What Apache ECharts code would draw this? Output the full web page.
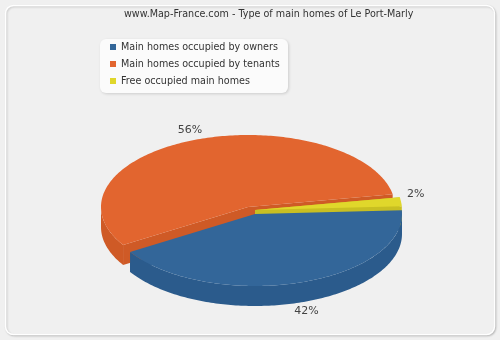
<!DOCTYPE html>
<html><head><meta charset="utf-8">
<script src="https://cdn.jsdelivr.net/npm/echarts@6/dist/echarts.min.js"></script>
<style>html,body{margin:0;padding:0;background:#f0f0f0}#c{width:500px;height:340px}</style>
</head><body><div id="c"></div>
<script>
const categories = ['Main homes occupied by owners', 'Main homes occupied by tenants', 'Free occupied main homes'];
const values = [42, 56, 2];
const pctLabels = ['42%', '56%', '2%'];

const topColors = ['#336699', '#e2652f', '#e0d72b'];
const sideColors = ['#2b5b8c', '#cf5a26', '#c8bf22'];
const offsets = [[0, 0], [-7, -7], [0, -4]];
const labelNudge = [[3, -2], [0, 0], [0, -6]];
const CX = 255, CY = 214, RX = 147, RY = 72, DEPTH = 20;
const START = -3 * Math.PI / 180;
const FONT = 'DejaVu Sans';

const total = values.reduce((a, b) => a + b, 0);

function startAngle(i) {
  let cum = 0;
  for (let k = 0; k < i; k++) cum += values[k];
  return START + 2 * Math.PI * cum / total;
}

function arc(cx, cy, s, e, dy) {
  const pts = [];
  const n = Math.max(2, Math.ceil(Math.abs(e - s) / (Math.PI / 180)));
  for (let j = 0; j <= n; j++) {
    const a = s + (e - s) * j / n;
    pts.push([cx + RX * Math.cos(a), cy + RY * Math.sin(a) + dy]);
  }
  return pts;
}

function renderItem(params, api) {
  const i = params.seriesIndex;
  const v = api.value(0);
  const a0 = startAngle(i);
  const a1 = a0 + 2 * Math.PI * v / total;
  const cx = CX + offsets[i][0], cy = CY + offsets[i][1];
  const children = [];
  [a0, a1].forEach(a => {
    const r = [cx + RX * Math.cos(a), cy + RY * Math.sin(a)];
    children.push({
      type: 'polygon', z2: 1,
      shape: { points: [[cx, cy], r, [r[0], r[1] + DEPTH], [cx, cy + DEPTH]] },
      style: { fill: sideColors[i] }
    });
  });
  for (let k = -1; k <= 1; k++) {
    const fs = 2 * Math.PI * k, fe = fs + Math.PI;
    const s = Math.max(a0, fs), e = Math.min(a1, fe);
    if (e > s) {
      const topArc = arc(cx, cy, s, e, 0);
      const botArc = arc(cx, cy, s, e, DEPTH).reverse();
      children.push({
        type: 'polygon', z2: 2,
        shape: { points: topArc.concat(botArc) },
        style: { fill: sideColors[i] }
      });
    }
  }
  children.push({
    type: 'polygon', z2: 10,
    shape: { points: [[cx, cy]].concat(arc(cx, cy, a0, a1, 0)) },
    style: { fill: topColors[i] }
  });
  const m = (a0 + a1) / 2;
  const lx = cx + RX * 1.1 * Math.cos(m) + labelNudge[i][0];
  const ly = cy + RY * 1.15 * Math.sin(m) + (Math.sin(m) > 0 ? DEPTH : 0) + labelNudge[i][1];
  children.push({
    type: 'text', z2: 20,
    style: { text: pctLabels[i], x: lx, y: ly, fill: '#444', font: '11px ' + FONT, align: 'center', verticalAlign: 'middle' }
  });
  return { type: 'group', children };
}

const chart = echarts.init(document.getElementById('c'));
chart.setOption({
  backgroundColor: '#f0f0f0',
  animation: false,
  title: {
    text: 'www.Map-France.com - Type of main homes of Le Port-Marly',
    left: 119, top: 4,
    textStyle: { fontSize: 9.6, fontWeight: 'normal', color: '#333', fontFamily: FONT }
  },
  graphic: [
    { type: 'rect', z: -10, shape: { x: 5.5, y: 5.5, width: 489, height: 329, r: 8 },
      style: { fill: '#f0f0f0', stroke: '#ffffff', lineWidth: 1.5, shadowBlur: 2, shadowOffsetX: 1, shadowOffsetY: 1, shadowColor: 'rgba(0,0,0,0.18)' } },
    { type: 'rect', z: -5, shape: { x: 100, y: 39, width: 188, height: 54, r: 6 },
      style: { fill: '#fbfbfb', shadowBlur: 3, shadowOffsetX: 1, shadowOffsetY: 1, shadowColor: 'rgba(0,0,0,0.15)' } }
  ],
  legend: {
    orient: 'vertical', left: 100, top: 40,
    padding: [1, 10, 6, 10],
    itemWidth: 6, itemHeight: 6, itemGap: 5, icon: 'rect',
    textStyle: { fontSize: 9.6, color: '#333', fontFamily: FONT, lineHeight: 12 },
    data: categories
  },
  series: categories.map((name, i) => ({
    type: 'custom', name,
    coordinateSystem: 'none',
    itemStyle: { color: topColors[i] },
    renderItem,
    data: [values[i]]
  }))
});
</script></body></html>
